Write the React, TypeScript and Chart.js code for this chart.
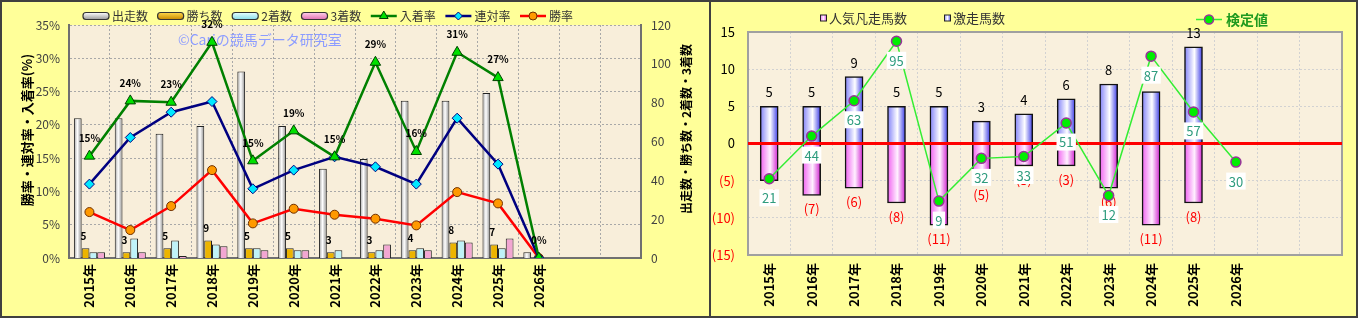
import React, { useEffect, useRef } from 'react';
import { Chart, registerables } from 'chart.js';

Chart.register(...registerables);

const FONT = "'Noto Sans CJK JP', 'Noto Sans', sans-serif";
Chart.defaults.font.family = FONT;

// ---------- data ----------
const categories = ['2015年', '2016年', '2017年', '2018年', '2019年', '2020年', '2021年', '2022年', '2023年', '2024年', '2025年', '2026年', '', ''];

// left chart (counts, right axis)
const runners = [72, 72, 64, 68, 96, 68, 46, 51, 81, 81, 85, 3];
const wins = [5, 3, 5, 9, 5, 5, 3, 3, 4, 8, 7, 0];
const seconds = [3, 10, 9, 7, 5, 4, 4, 4, 5, 9, 5, 0];
const thirds = [3, 3, 1, 6, 4, 4, 0, 7, 4, 8, 10, 0];
// left chart (rates %, left axis)
const placeRate = [15.3, 23.6, 23.4, 32.4, 14.6, 19.1, 15.2, 29.4, 16.0, 30.9, 27.1, 0];
const rentaiRate = [11.1, 18.1, 21.9, 23.5, 10.4, 13.2, 15.2, 13.7, 11.1, 21.0, 14.1, 0];
const winRate = [6.9, 4.2, 7.8, 13.2, 5.2, 7.4, 6.5, 5.9, 4.9, 9.9, 8.2, 0];

// right chart
const hotCounts = [5, 5, 9, 5, 5, 3, 4, 6, 8, 7, 13, 0];
const flopCounts = [-5, -7, -6, -8, -11, -5, -3, -3, -6, -11, -8, 0];
const testValues = [21, 44, 63, 95, 9, 32, 33, 51, 12, 87, 57, 30];

// ---------- helpers ----------
function roundRect(ctx: CanvasRenderingContext2D, x: number, y: number, w: number, h: number, r: number) {
  ctx.beginPath();
  ctx.moveTo(x + r, y);
  ctx.lineTo(x + w - r, y);
  ctx.arcTo(x + w, y, x + w, y + r, r);
  ctx.lineTo(x + w, y + h - r);
  ctx.arcTo(x + w, y + h, x + w - r, y + h, r);
  ctx.lineTo(x + r, y + h);
  ctx.arcTo(x, y + h, x, y + h - r, r);
  ctx.lineTo(x, y + r);
  ctx.arcTo(x, y, x + r, y, r);
  ctx.closePath();
}

function marker(ctx: CanvasRenderingContext2D, style: string, x: number, y: number, r: number, fill: string, stroke: string) {
  ctx.beginPath();
  if (style === 'triangle') {
    for (let k = 0; k < 3; k++) {
      const a = (k * 2 * Math.PI) / 3;
      const px = x + Math.sin(a) * r, py = y - Math.cos(a) * r;
      if (k === 0) ctx.moveTo(px, py); else ctx.lineTo(px, py);
    }
    ctx.closePath();
  } else if (style === 'rectRot') {
    ctx.moveTo(x, y - r); ctx.lineTo(x + r, y); ctx.lineTo(x, y + r); ctx.lineTo(x - r, y); ctx.closePath();
  } else {
    ctx.arc(x, y, r, 0, Math.PI * 2);
  }
  ctx.fillStyle = fill; ctx.fill();
  ctx.lineWidth = 1; ctx.strokeStyle = stroke; ctx.stroke();
}

const LEFT_CAT_PCT = 0.76;

function runnerFill(c: any) {
  const chart = c.chart;
  const xs = chart.scales && chart.scales.x;
  if (!xs || c.dataIndex == null || !chart.chartArea) return '#eeeeee';
  const center = xs.getPixelForValue(c.dataIndex);
  const slot = (xs.right - xs.left) / categories.length;
  const group = slot * LEFT_CAT_PCT;
  const left = center - group / 2;
  const w = group / 4;
  const g = chart.ctx.createLinearGradient(left, 0, left + w, 0);
  g.addColorStop(0, '#a0a0a0');
  g.addColorStop(0.45, '#ffffff');
  g.addColorStop(1, '#8a8a8a');
  return g;
}

function barGrad(stops: [number, string][]) {
  return (c: any) => {
    const chart = c.chart;
    const xs = chart.scales && chart.scales.x;
    if (!xs || c.dataIndex == null || !chart.chartArea) return stops[1][1];
    const center = xs.getPixelForValue(c.dataIndex);
    const g = chart.ctx.createLinearGradient(center - 9, 0, center + 9, 0);
    stops.forEach(([o, col]) => g.addColorStop(o, col));
    return g;
  };
}

// ---------- left chart ----------
const leftLegend = [
  { label: '出走数', kind: 'box', c1: '#ffffff', c2: '#9a9a9a' },
  { label: '勝ち数', kind: 'box', c1: '#ffd84a', c2: '#c88a00' },
  { label: '2着数', kind: 'box', c1: '#e8ffff', c2: '#88dde8' },
  { label: '3着数', kind: 'box', c1: '#ffd0ea', c2: '#e070b0' },
  { label: '入着率', kind: 'line', color: '#008000', style: 'triangle', fill: '#00e000', stroke: '#004000', r: 5 },
  { label: '連対率', kind: 'line', color: '#000080', style: 'rectRot', fill: '#00e8ff', stroke: '#000080', r: 4 },
  { label: '勝率', kind: 'line', color: '#ff0000', style: 'circle', fill: '#ff9900', stroke: '#703000', r: 4 },
];

const leftPlugin = {
  id: 'leftDecor',
  beforeDraw(chart: any) {
    const { ctx, chartArea: a } = chart;
    ctx.save();
    ctx.fillStyle = '#F8EEDA';
    ctx.fillRect(a.left, a.top, a.right - a.left, a.bottom - a.top);
    ctx.restore();
  },
  beforeDatasetsDraw(chart: any) {
    const { ctx } = chart;
    ctx.save();
    ctx.font = `14px ${FONT}`;
    ctx.fillStyle = '#8c9cff';
    ctx.textAlign = 'left';
    ctx.textBaseline = 'middle';
    ctx.fillText('©Cariの競馬データ研究室', 176, 38);
    ctx.restore();
  },
  afterDatasetsDraw(chart: any) {
    const { ctx } = chart;
    ctx.save();
    ctx.font = `bold 10px ${FONT}`;
    ctx.fillStyle = '#000';
    ctx.textAlign = 'center';
    ctx.textBaseline = 'middle';
    const pm = chart.getDatasetMeta(0);
    placeRate.forEach((v, i) => {
      const el = pm.data[i];
      if (!el) return;
      ctx.fillText(`${Math.round(v)}%`, el.x, el.y - 18);
    });
    const wm = chart.getDatasetMeta(4);
    wins.forEach((v, i) => {
      const el = wm.data[i];
      if (!el || v === 0) return;
      ctx.fillText(String(v), el.x - 2, el.y - 12);
    });
    ctx.restore();
  },
  afterDraw(chart: any) {
    const { ctx } = chart;
    ctx.save();
    // legend
    ctx.font = `12px ${FONT}`;
    ctx.textBaseline = 'middle';
    ctx.textAlign = 'left';
    const mw = 26, gap = 3, startX = 81, endX = 571, ly = 14;
    let total = 0;
    leftLegend.forEach((it) => { total += mw + gap + ctx.measureText(it.label).width; });
    const spacing = (endX - startX - total) / (leftLegend.length - 1);
    let x = startX;
    leftLegend.forEach((it: any) => {
      if (it.kind === 'box') {
        const g = ctx.createLinearGradient(0, ly - 3.5, 0, ly + 3.5);
        g.addColorStop(0, it.c1);
        g.addColorStop(1, it.c2);
        roundRect(ctx, x, ly - 3.5, mw, 7, 3);
        ctx.fillStyle = g; ctx.fill();
        ctx.lineWidth = 1.2; ctx.strokeStyle = '#333'; ctx.stroke();
      } else {
        ctx.beginPath();
        ctx.moveTo(x, ly); ctx.lineTo(x + mw, ly);
        ctx.lineWidth = 2.5; ctx.strokeStyle = it.color; ctx.stroke();
        marker(ctx, it.style, x + mw / 2, ly, it.r, it.fill, it.stroke);
      }
      x += mw + gap;
      ctx.fillStyle = '#333';
      ctx.fillText(it.label, x, ly + 0.5);
      x += ctx.measureText(it.label).width + spacing;
    });
    // axis titles
    ctx.font = `bold 13px ${FONT}`;
    ctx.fillStyle = '#000';
    ctx.textAlign = 'center';
    ctx.save();
    ctx.translate(25, 128);
    ctx.rotate(-Math.PI / 2);
    ctx.fillText('勝率・連対率・入着率(%)', 0, 0);
    ctx.restore();
    ctx.font = `bold 12px ${FONT}`;
    ctx.save();
    ctx.translate(684, 127);
    ctx.rotate(-Math.PI / 2);
    ctx.fillText('出走数・勝ち数・2着数・3着数', 0, 0);
    ctx.restore();
    ctx.restore();
  },
};

function leftConfig(): any {
  return {
    type: 'bar',
    data: {
      labels: categories,
      datasets: [
        { type: 'line', label: '入着率', data: placeRate, yAxisID: 'y', borderColor: '#008000', borderWidth: 2.5, pointStyle: 'triangle', pointRadius: 6, pointBackgroundColor: '#00e000', pointBorderColor: '#004000', pointBorderWidth: 1, order: 1 },
        { type: 'line', label: '連対率', data: rentaiRate, yAxisID: 'y', borderColor: '#000080', borderWidth: 2.5, pointStyle: 'rectRot', pointRadius: 5, pointBackgroundColor: '#00e8ff', pointBorderColor: '#000080', pointBorderWidth: 1, order: 1 },
        { type: 'line', label: '勝率', data: winRate, yAxisID: 'y', borderColor: '#ff0000', borderWidth: 2.5, pointStyle: 'circle', pointRadius: 4.5, pointBackgroundColor: '#ff9900', pointBorderColor: '#703000', pointBorderWidth: 1, order: 1 },
        { type: 'bar', label: '出走数', data: runners, yAxisID: 'y1', backgroundColor: runnerFill, borderColor: '#222', borderWidth: 1, order: 2 },
        { type: 'bar', label: '勝ち数', data: wins, yAxisID: 'y1', backgroundColor: '#ecb400', borderColor: '#222', borderWidth: 1, order: 2 },
        { type: 'bar', label: '2着数', data: seconds, yAxisID: 'y1', backgroundColor: '#bff2f8', borderColor: '#222', borderWidth: 1, order: 2 },
        { type: 'bar', label: '3着数', data: thirds, yAxisID: 'y1', backgroundColor: '#f2a6d2', borderColor: '#222', borderWidth: 1, order: 2 },
      ],
    },
    options: {
      responsive: false,
      animation: false,
      devicePixelRatio: 1,
      layout: { padding: { top: 23, left: 0, right: 0, bottom: 0 } },
      datasets: { bar: { categoryPercentage: LEFT_CAT_PCT, barPercentage: 1 } },
      plugins: { legend: { display: false }, tooltip: { enabled: false } },
      scales: {
        x: {
          offset: true,
          grid: { offset: true, color: '#a8a8a8', lineWidth: 1, drawTicks: false },
          border: { display: true, color: '#707070', width: 2, dash: [2, 2] },
          ticks: { autoSkip: false, maxRotation: 90, minRotation: 90, padding: 6, color: '#000', font: { size: 13, weight: 'bold', family: FONT } },
          afterFit: (s: any) => { s.height = 58; },
        },
        y: {
          position: 'left',
          min: 0, max: 35,
          grid: { color: '#a8a8a8', lineWidth: 1, drawTicks: false },
          border: { display: true, color: '#707070', width: 2, dash: [2, 2] },
          ticks: { stepSize: 5, padding: 9, color: '#404040', font: { size: 12, family: FONT }, callback: (v: any) => `${v}%` },
          afterFit: (s: any) => { s.width = 67; },
        },
        y1: {
          position: 'right',
          min: 0, max: 120,
          grid: { display: false, drawTicks: false },
          border: { display: true, color: '#707070', width: 2 },
          ticks: { stepSize: 20, padding: 10, color: '#404040', font: { size: 12, family: FONT } },
          afterFit: (s: any) => { s.width = 68; },
        },
      },
    },
    plugins: [leftPlugin],
  };
}

// ---------- right chart ----------
const rightPlugin = {
  id: 'rightDecor',
  beforeDraw(chart: any) {
    const { ctx, chartArea: a } = chart;
    ctx.save();
    ctx.fillStyle = '#F9F0DD';
    ctx.fillRect(a.left, a.top, a.right - a.left, a.bottom - a.top);
    ctx.restore();
  },
  beforeDatasetsDraw(chart: any) {
    const { ctx, chartArea: a } = chart;
    ctx.save();
    ctx.strokeStyle = '#a0a0a0';
    ctx.lineWidth = 2;
    ctx.strokeRect(a.left, a.top, a.right - a.left, a.bottom - a.top);
    ctx.restore();
  },
  beforeDatasetDraw(chart: any, args: any) {
    if (args.index !== 2) return;
    const { ctx, chartArea: a } = chart;
    const y0 = chart.scales.y.getPixelForValue(0);
    ctx.save();
    ctx.strokeStyle = '#ff0000';
    ctx.lineWidth = 3;
    ctx.beginPath();
    ctx.moveTo(a.left, y0);
    ctx.lineTo(a.right, y0);
    ctx.stroke();
    // bar value labels
    ctx.font = `13px ${FONT}`;
    ctx.textAlign = 'center';
    ctx.textBaseline = 'middle';
    const hm = chart.getDatasetMeta(1);
    hotCounts.forEach((v, i) => {
      const el = hm.data[i];
      if (!el || v === 0) return;
      ctx.fillStyle = '#000';
      ctx.fillText(String(v), el.x, el.y - 14);
    });
    const fm = chart.getDatasetMeta(0);
    flopCounts.forEach((v, i) => {
      const el = fm.data[i];
      if (!el || v === 0) return;
      ctx.fillStyle = '#ff0000';
      ctx.fillText(`(${-v})`, el.x, el.y + 14);
    });
    ctx.restore();
  },
  afterDatasetsDraw(chart: any) {
    const { ctx } = chart;
    ctx.save();
    ctx.font = `13px ${FONT}`;
    ctx.textAlign = 'center';
    ctx.textBaseline = 'middle';
    const lm = chart.getDatasetMeta(2);
    testValues.forEach((v, i) => {
      const el = lm.data[i];
      if (!el) return;
      const t = String(v);
      const w = ctx.measureText(t).width + 5;
      const cy = el.y + 19;
      ctx.fillStyle = '#ffffff';
      ctx.fillRect(el.x - w / 2, cy - 8.5, w, 17);
      ctx.fillStyle = '#2e9c7e';
      ctx.fillText(t, el.x, cy + 0.5);
    });
    ctx.restore();
  },
  afterDraw(chart: any) {
    const { ctx } = chart;
    ctx.save();
    ctx.textBaseline = 'middle';
    ctx.textAlign = 'left';
    ctx.font = `13px ${FONT}`;
    const ly = 16;
    // 人気凡走馬数
    let g = ctx.createLinearGradient(109, 0, 116, 0);
    g.addColorStop(0, '#f070f0'); g.addColorStop(0.5, '#fff0ff'); g.addColorStop(1, '#e040e0');
    ctx.fillStyle = g; ctx.fillRect(109.5, ly - 3, 6, 6);
    ctx.strokeStyle = '#222'; ctx.lineWidth = 1; ctx.strokeRect(109.5, ly - 3, 6, 6);
    ctx.fillStyle = '#333'; ctx.fillText('人気凡走馬数', 118, ly);
    // 激走馬数
    g = ctx.createLinearGradient(233, 0, 240, 0);
    g.addColorStop(0, '#8080f8'); g.addColorStop(0.5, '#ffffff'); g.addColorStop(1, '#4040e8');
    ctx.fillStyle = g; ctx.fillRect(233.5, ly - 3, 6, 6);
    ctx.strokeStyle = '#222'; ctx.strokeRect(233.5, ly - 3, 6, 6);
    ctx.fillStyle = '#333'; ctx.fillText('激走馬数', 242, ly);
    // 検定値
    const ly2 = 17.5;
    ctx.beginPath(); ctx.moveTo(485, ly2); ctx.lineTo(511, ly2);
    ctx.strokeStyle = '#33ee33'; ctx.lineWidth = 1.5; ctx.stroke();
    ctx.beginPath(); ctx.arc(498, ly2, 4.5, 0, Math.PI * 2);
    ctx.fillStyle = '#00ee00'; ctx.fill();
    ctx.strokeStyle = '#993399'; ctx.lineWidth = 1.5; ctx.stroke();
    ctx.font = `bold 14px ${FONT}`;
    ctx.fillStyle = '#1f9a1f';
    ctx.fillText('検定値', 515, ly2);
    ctx.restore();
  },
};

function rightConfig(): any {
  return {
    type: 'bar',
    data: {
      labels: categories,
      datasets: [
        { type: 'bar', label: '人気凡走馬数', data: flopCounts, backgroundColor: barGrad([[0, '#f060f0'], [0.55, '#fff0ff'], [1, '#d020d0']]), borderColor: '#111', borderWidth: 1.5, barThickness: 18, order: 2 },
        { type: 'bar', label: '激走馬数', data: hotCounts, backgroundColor: barGrad([[0, '#8080f8'], [0.55, '#ffffff'], [1, '#3a3ae6']]), borderColor: '#111', borderWidth: 1.5, barThickness: 18, order: 2 },
        { type: 'line', label: '検定値', data: testValues, yAxisID: 'y2', borderColor: '#33ee33', borderWidth: 1.5, pointRadius: 5, pointBackgroundColor: '#00ee00', pointBorderColor: '#993399', pointBorderWidth: 1.5, order: 1, clip: false },
      ],
    },
    options: {
      responsive: false,
      animation: false,
      devicePixelRatio: 1,
      layout: { padding: { top: 30, left: 0, right: 14, bottom: 0 } },
      plugins: { legend: { display: false }, tooltip: { enabled: false } },
      scales: {
        x: {
          stacked: true,
          offset: true,
          grid: { offset: true, color: '#d2d2d2', lineWidth: 1, drawTicks: false },
          border: { display: false, dash: [2, 2] },
          ticks: { autoSkip: false, maxRotation: 90, minRotation: 90, padding: 8, color: '#000', font: { size: 13, weight: 'bold', family: FONT } },
          afterFit: (s: any) => { s.height = 61; },
        },
        y: {
          stacked: true,
          min: -15, max: 15,
          grid: { color: '#d2d2d2', lineWidth: 1, drawTicks: false },
          border: { display: false, dash: [2, 2] },
          ticks: {
            stepSize: 5, padding: 13,
            font: { size: 13, family: FONT },
            color: (c: any) => (c.tick && c.tick.value < 0 ? '#ff0000' : '#000000'),
            callback: (v: any) => (v < 0 ? `(${-v})` : `${v}`),
          },
          afterFit: (s: any) => { s.width = 37; },
        },
        y2: { display: false, min: -20, max: 100 },
      },
    },
    plugins: [rightPlugin],
  };
}

export default function App() {
  const leftRef = useRef<HTMLCanvasElement>(null);
  const rightRef = useRef<HTMLCanvasElement>(null);
  useEffect(() => {
    const lc = new Chart(leftRef.current as HTMLCanvasElement, leftConfig());
    const rc = new Chart(rightRef.current as HTMLCanvasElement, rightConfig());
    return () => { lc.destroy(); rc.destroy(); };
  }, []);
  return (
    <div style={{ position: 'absolute', left: 0, top: 0, width: 1358, height: 318, boxSizing: 'border-box', border: '2px solid #404040', background: '#FFFF99', display: 'flex' }}>
      <canvas ref={leftRef} width={707} height={314} style={{ display: 'block', width: 707, height: 314 }} />
      <div style={{ width: 2, height: 314, background: '#404040' }} />
      <canvas ref={rightRef} width={645} height={314} style={{ display: 'block', width: 645, height: 314 }} />
    </div>
  );
}
